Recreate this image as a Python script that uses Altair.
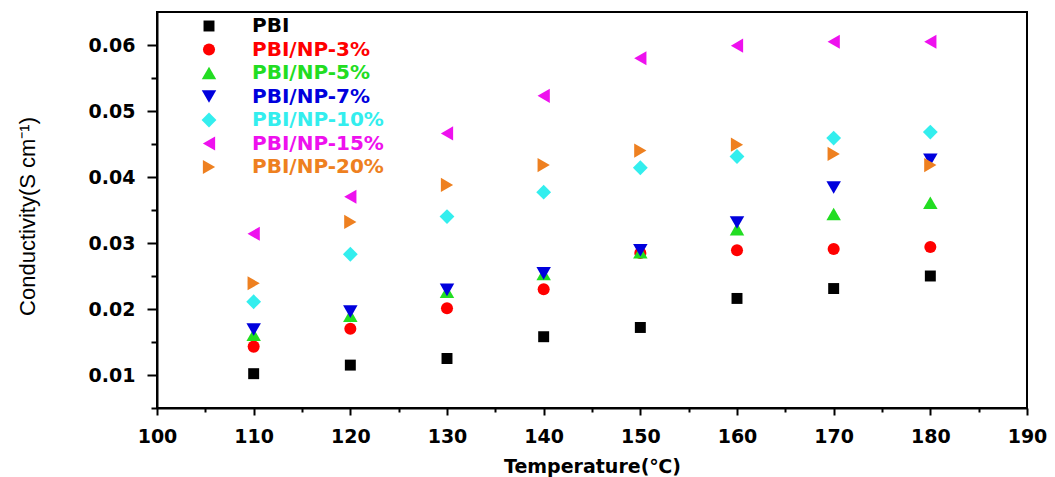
import altair as alt
import pandas as pd

temps = [110, 120, 130, 140, 150, 160, 170, 180]
series = ["PBI", "PBI/NP-3%", "PBI/NP-5%", "PBI/NP-7%", "PBI/NP-10%", "PBI/NP-15%", "PBI/NP-20%"]
pbi = [0.0102, 0.0115, 0.0125, 0.0158, 0.0172, 0.0216, 0.0231, 0.0250]
np3 = [0.0143, 0.0170, 0.0201, 0.0230, 0.0285, 0.0289, 0.0291, 0.0294]
np5 = [0.0161, 0.0190, 0.0226, 0.0253, 0.0286, 0.0321, 0.0344, 0.0361]
np7 = [0.0169, 0.0196, 0.0229, 0.0254, 0.0289, 0.0331, 0.0384, 0.0426]
np10 = [0.0211, 0.0283, 0.0340, 0.0377, 0.0414, 0.0431, 0.0459, 0.0468]
np15 = [0.0314, 0.0370, 0.0466, 0.0523, 0.0580, 0.0599, 0.0605, 0.0605]
np20 = [0.0239, 0.0332, 0.0388, 0.0418, 0.0440, 0.0449, 0.0435, 0.0418]
values = [pbi, np3, np5, np7, np10, np15, np20]

colors = ["#000000", "#FF0000", "#22DD22", "#0000DD", "#33EEEE", "#EE11EE", "#EE8020"]
shapes = ["square", "circle", "triangle-up", "triangle-down", "diamond", "triangle-left", "triangle-right"]
marker_sizes = [120, 145, 210, 210, 220, 200, 200]

x_major = [100, 110, 120, 130, 140, 150, 160, 170, 180, 190]
x_minor = [105, 115, 125, 135, 145, 155, 165, 175, 185]
y_major = [0.01, 0.02, 0.03, 0.04, 0.05, 0.06]
y_minor = [0.005, 0.015, 0.025, 0.035, 0.045, 0.055]

rows = []
for i, (s, vals) in enumerate(zip(series, values)):
    for t, v in zip(temps, vals):
        rows.append({"Temperature": t, "Conductivity": v, "Series": s, "idx": i})
df = pd.DataFrame(rows)

name_list = "[" + ",".join("'" + s + "'" for s in series) + "]"
color_list = "[" + ",".join("'" + c + "'" for c in colors) + "]"
label_color_expr = color_list + "[indexof(" + name_list + ", datum.label)]"

LABEL_FONT = "DejaVu Sans"

xscale = alt.Scale(domain=[100, 190], nice=False, zero=False)
yscale = alt.Scale(domain=[0.005, 0.065], nice=False, zero=False)

main = alt.Chart(df).mark_point(filled=True, opacity=1).encode(
    x=alt.X("Temperature:Q", scale=xscale,
            axis=alt.Axis(orient="bottom", values=x_major, format="d", title="Temperature(℃)",
                          labelFont=LABEL_FONT, labelFontWeight="bold", labelFontSize=19,
                          labelColor="black", tickColor="black", tickSize=7, tickWidth=2,
                          domainColor="black", domainWidth=2, grid=False, labelPadding=12,
                          labelFlush=False,
                          titleFont=LABEL_FONT, titleFontWeight="bold", titleFontSize=19,
                          titleColor="black", titleY=58, titleBaseline="middle")),
    y=alt.Y("Conductivity:Q", scale=yscale,
            axis=alt.Axis(orient="left", values=y_major, format=".2f",
                          title="Conductivity(S cm⁻¹)",
                          labelFont=LABEL_FONT, labelFontWeight="bold", labelFontSize=19,
                          labelColor="black", tickColor="black", tickSize=10, tickWidth=2,
                          domainColor="black", domainWidth=2, grid=False, labelPadding=12,
                          labelFlush=False,
                          titleFont="Liberation Sans Narrow, Liberation Sans", titleFontWeight="normal",
                          titleFontSize=22, titleColor="black", titleX=-130, titleY=204,
                          titleBaseline="middle", titleAlign="center", titleAngle=270)),
    color=alt.Color("Series:N", sort=series,
                    scale=alt.Scale(domain=series, range=colors),
                    legend=alt.Legend(title=None, orient="none", legendX=42, legendY=4,
                                      labelFont=LABEL_FONT, labelFontWeight="bold", labelFontSize=20,
                                      labelColor=alt.ExprRef(label_color_expr),
                                      labelOffset=33, rowPadding=3.5,
                                      symbolStrokeWidth=0, padding=0)),
    shape=alt.Shape("Series:N", sort=series,
                    scale=alt.Scale(domain=series, range=shapes)),
    size=alt.Size("Series:N", sort=series,
                  scale=alt.Scale(type="ordinal", domain=series, range=marker_sizes)),
    order=alt.Order("idx:Q"),
)

minor = alt.Chart(df).mark_point(opacity=0).encode(
    x=alt.X("Temperature:Q", scale=xscale,
            axis=alt.Axis(orient="bottom", values=x_minor, labels=False, title=None,
                          tickColor="black", tickSize=4, tickWidth=2, domain=False, grid=False)),
    y=alt.Y("Conductivity:Q", scale=yscale,
            axis=alt.Axis(orient="left", values=y_minor, labels=False, title=None,
                          tickColor="black", tickSize=6, tickWidth=2, domain=False, grid=False)),
)

chart = alt.layer(minor, main).resolve_axis(x="independent", y="independent").properties(
    width=870, height=396,
    autosize=alt.AutoSizeParams(type="none"),
    padding={"left": 157, "top": 12, "right": 28, "bottom": 69},
    background="white",
).configure_view(stroke="black", strokeWidth=2)

chart.save("out.html", embed_options={"renderer": "svg", "actions": False})
